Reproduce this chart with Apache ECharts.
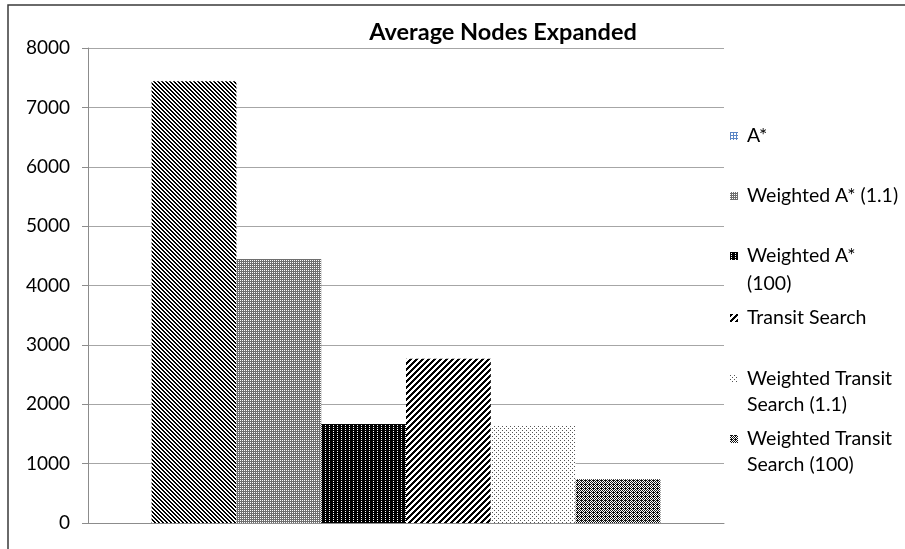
<!DOCTYPE html>
<html><head><meta charset="utf-8">
<script src="https://cdn.jsdelivr.net/npm/echarts@6/dist/echarts.min.js"></script>
<style>html,body{margin:0;padding:0;background:#fff}#c{width:905px;height:549px}</style>
</head><body><div id="c"></div>
<script>
const chartTitle = 'Average Nodes Expanded';
const categories = [''];
const seriesNames = ['A*', 'Weighted A* (1.1)', 'Weighted A* (100)', 'Transit Search', 'Weighted Transit Search (1.1)', 'Weighted Transit Search (100)'];
const legendLines = [['A*'], ['Weighted A* (1.1)'], ['Weighted A*', '(100)'], ['Transit Search'], ['Weighted Transit', 'Search (1.1)'], ['Weighted Transit', 'Search (100)']];
const values = [7438, 4448, 1667, 2768, 1634, 736];
const yMin = 0, yMax = 8000, yInterval = 1000;

const FONT = 'Lato';

function tile(size, fn, bg) {
  const c = document.createElement('canvas');
  c.width = size; c.height = size;
  const g = c.getContext('2d');
  g.fillStyle = bg; g.fillRect(0, 0, size, size);
  for (let y = 0; y < size; y++) for (let x = 0; x < size; x++) {
    const col = fn(x, y);
    if (col) { g.fillStyle = col; g.fillRect(x, y, 1, 1); }
  }
  return { image: c, repeat: 'repeat' };
}
const patterns = [
  tile(8, (x, y) => ((x - y + 16) % 4 < 2) ? '#000' : null, '#fff'),
  tile(4, (x, y) => (x % 2 === 0 && y % 2 === 0) ? '#fff' : null, '#6e6e6e'),
  tile(4, (x, y) => (x % 4 === 1 && y % 2 === 1) ? '#fff' : null, '#000'),
  tile(6, (x, y) => ((x + y) % 6 < 3) ? '#000' : null, '#fff'),
  tile(4, (x, y) => ((x % 4 === 0 && y % 4 === 0) || (x % 4 === 2 && y % 4 === 2)) ? '#555' : null, '#fff'),
  tile(4, (x, y) => ((x + y) % 2 === 0 || (x % 4 === 1 && y % 4 === 0)) ? '#111' : null, '#fff')
];
const aStarLegendPattern = tile(3, (x, y) => (x % 3 === 0 || y % 3 === 0) ? '#5b86c5' : null, '#fff');

const legendCenters = [136, 196, 256, 318, 379, 439];
const secondLineCenters = [null, null, 284, null, 405, 465];

const chart = echarts.init(document.getElementById('c'), null, { renderer: 'canvas' });

const legends = seriesNames.map((n, i) => ({
  data: [i === 0 ? { name: n, itemStyle: { color: aStarLegendPattern } } : { name: n }],
  left: 730, top: legendCenters[i] - 10, padding: 0,
  orient: 'vertical', icon: 'rect', itemWidth: 8, itemHeight: 8,
  selectedMode: false,
  formatter: () => legendLines[i][0],
  textStyle: { fontFamily: FONT, fontSize: 19.5, color: '#000', lineHeight: 20, padding: [0, 0, 0, 4] }
}));

const graphics = [
  { type: 'rect', shape: { x: 8, y: 5, width: 2000, height: 2000 }, style: { fill: 'none', stroke: '#3a3a3a', lineWidth: 1.5 }, silent: true, z: 100 }
];
secondLineCenters.forEach((cy, i) => {
  if (cy === null) return;
  graphics.push({ type: 'text', left: 747, top: cy - 10, style: { text: legendLines[i][1], font: '19.5px ' + FONT, fill: '#000', lineHeight: 20 } });
});

chart.setOption({
  animation: false,
  backgroundColor: '#fff',
  title: {
    text: chartTitle, left: 503, top: 20, textAlign: 'center', padding: 0,
    textStyle: { fontFamily: FONT, fontWeight: 'bold', fontSize: 23.5, color: '#000' }
  },
  legend: legends,
  graphic: graphics,
  grid: { left: 88, top: 48, right: 181, bottom: 26, containLabel: false },
  xAxis: {
    type: 'category', data: categories,
    axisLine: { show: true, lineStyle: { color: '#8c8c8c', width: 1 } },
    axisTick: { show: false }, axisLabel: { show: false }, splitLine: { show: false }
  },
  yAxis: {
    type: 'value', min: yMin, max: yMax, interval: yInterval,
    axisLine: { show: true, lineStyle: { color: '#8c8c8c', width: 1 } },
    axisTick: { show: true, length: 6, lineStyle: { color: '#8c8c8c' } },
    axisLabel: { fontFamily: FONT, fontSize: 19, color: '#000', margin: 18, formatter: v => String(v) },
    splitLine: { show: true, lineStyle: { color: '#a6a6a6', width: 1 } }
  },
  series: seriesNames.map((n, i) => ({
    name: n, type: 'bar', data: [values[i]],
    barGap: '0%', barCategoryGap: '20%',
    itemStyle: { color: patterns[i] }
  }))
});
</script></body></html>
